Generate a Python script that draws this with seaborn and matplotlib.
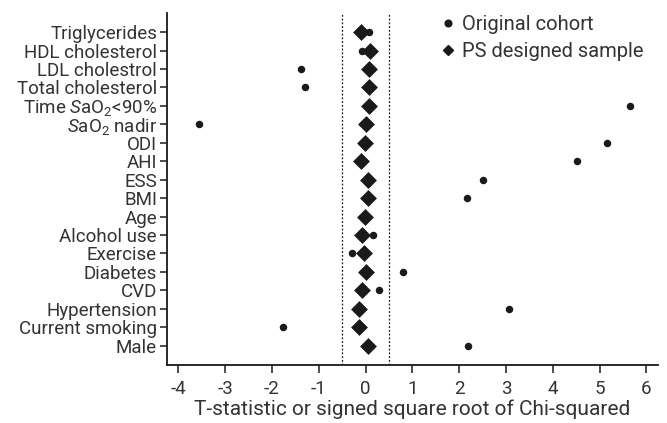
import numpy as np
import pandas as pd
import matplotlib
matplotlib.use("Agg")
import matplotlib.pyplot as plt
from matplotlib.lines import Line2D
import seaborn as sns

# ---------------------------
# Data
# ---------------------------
covariates = [
    "Triglycerides", "HDL cholesterol", "LDL cholestrol", "Total cholesterol",
    "Time $S$aO$_2$<90%", "$S$aO$_2$ nadir", "ODI", "AHI", "ESS", "BMI", "Age",
    "Alcohol use", "Exercise", "Diabetes", "CVD", "Hypertension",
    "Current smoking", "Male",
]
original_cohort = [0.08, -0.07, -1.37, -1.30, 5.65, -3.56, 5.15, 4.51, 2.50,
                   2.16, 0.00, 0.15, -0.30, 0.81, 0.29, 3.07, -1.76, 2.18]
ps_sample = [-0.10, 0.10, 0.08, 0.08, 0.07, 0.00, -0.01, -0.10, 0.05,
             0.05, -0.02, -0.07, -0.03, 0.01, -0.08, -0.14, -0.15, 0.05]
x_ticks = [-4, -3, -2, -1, 0, 1, 2, 3, 4, 5, 6]

df = pd.DataFrame({"covariate": covariates,
                   "original": original_cohort,
                   "ps": ps_sample})

# ---------------------------
# Plot
# ---------------------------
sns.set_style("ticks")
plt.rcParams["font.family"] = ["Roboto", "DejaVu Sans"]
plt.rcParams["mathtext.fontset"] = "custom"
plt.rcParams["mathtext.it"] = "Roboto:italic"
plt.rcParams["mathtext.rm"] = "Roboto"

ink = "#1a1a1a"
txt = "#333333"
fig = plt.figure(figsize=(6.67, 4.23), dpi=100)
ax = fig.add_axes([0.25, 0.137, 0.7365, 0.833])

sns.stripplot(data=df, x="original", y="covariate", order=covariates,
              jitter=False, color=ink, marker="o", size=5.4,
              linewidth=0, ax=ax)
sns.stripplot(data=df, x="ps", y="covariate", order=covariates,
              jitter=False, color=ink, marker="D", size=8.6,
              linewidth=0, ax=ax)

# balance limits
ax.axvline(-0.5, color=ink, linestyle=(0, (1.5, 1.5)), linewidth=0.9)
ax.axvline(0.5, color=ink, linestyle=(0, (1.5, 1.5)), linewidth=0.9)

n = len(covariates)
ax.set_xlim(-4.25, 6.25)
ax.set_ylim(n - 1 + 1.05, -1.05)
ax.set_xticks(x_ticks)
ax.set_xticklabels([str(t) for t in x_ticks])
ax.set_xlabel("T-statistic or signed square root of Chi-squared",
              fontsize=15, color=txt, labelpad=1)
ax.set_ylabel("")

ax.tick_params(axis="y", labelsize=13.5, labelcolor=txt,
               color=ink, length=5, width=1.1, pad=2)
ax.tick_params(axis="x", labelsize=13.5, labelcolor=txt,
               color=ink, length=6, width=1.1, pad=5)
for side in ["left", "bottom"]:
    ax.spines[side].set_color(ink)
    ax.spines[side].set_linewidth(1.3)
sns.despine(ax=ax)

handles = [
    Line2D([], [], marker="o", color=ink, linestyle="none", markersize=4.8),
    Line2D([], [], marker="D", color=ink, linestyle="none", markersize=4.8),
]
ax.legend(handles, ["Original cohort", "PS designed sample"],
          loc="upper left", bbox_to_anchor=(440 / 667, 1 - 15 / 423),
          bbox_transform=fig.transFigure, frameon=False, borderpad=0,
          borderaxespad=0, fontsize=14.5, handletextpad=0.3,
          handlelength=0.8, labelspacing=0.4, labelcolor=txt)

fig.savefig("out.png", dpi=100)
